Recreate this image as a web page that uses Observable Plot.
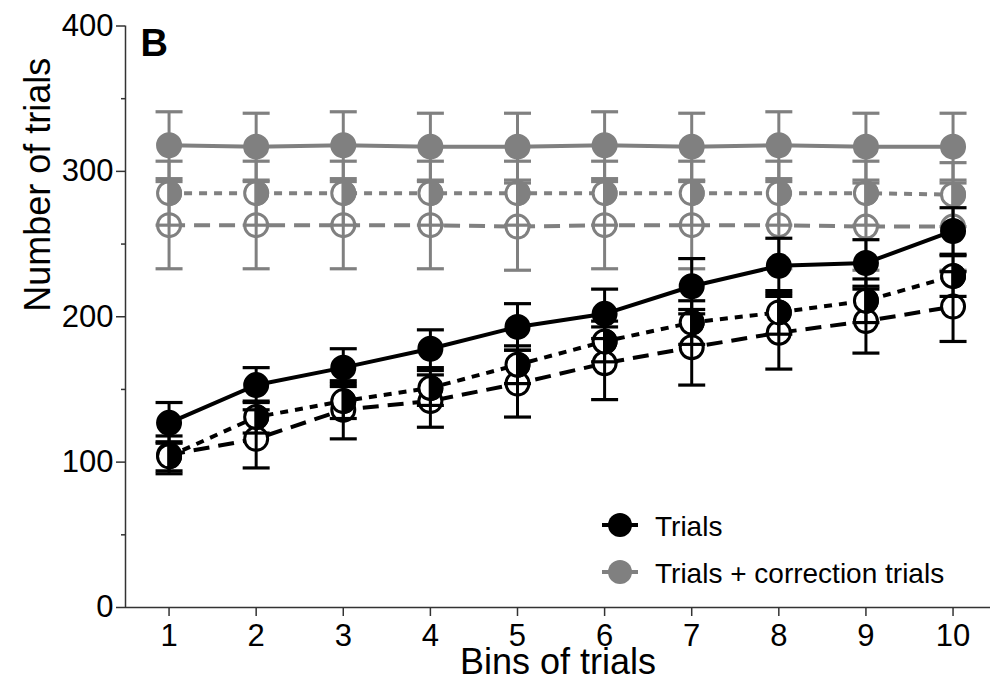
<!DOCTYPE html>
<html>
<head>
<meta charset="utf-8">
<script src="https://cdn.jsdelivr.net/npm/d3@7"></script>
<script src="https://cdn.jsdelivr.net/npm/@observablehq/plot@0.6"></script>
<style>
  html, body { margin: 0; padding: 0; background: #fff; }
  #chart { position: relative; width: 993px; height: 681px; }
</style>
</head>
<body>
<div id="chart"></div>
<script>
// ---- Data ----
const bins = [1, 2, 3, 4, 5, 6, 7, 8, 9, 10];

// Trials (black)
const trialsFilled    = [127, 153, 165, 178, 193, 202, 221, 235, 237, 259];
const trialsFilledErr = [14, 12, 13, 13, 16, 17, 19, 19, 16, 16];
const trialsHalf      = [104, 131, 142, 151, 167, 183, 196, 203, 211, 228];
const trialsHalfErr   = [10, 11, 12, 12, 13, 14, 15, 15, 15, 14];
const trialsOpen      = [105, 116, 136, 142, 154, 168, 179, 189, 197, 207];
const trialsOpenErr   = [13, 20, 20, 18, 23, 25, 26, 25, 22, 24];

// Trials + correction trials (grey)
const corrFilled    = [318, 317, 318, 317, 317, 318, 317, 318, 317, 317];
const corrFilledErr = [23, 23, 23, 23, 23, 23, 23, 23, 23, 23];
const corrHalf      = [285, 285, 285, 285, 285, 285, 285, 285, 285, 284];
const corrHalfErr   = [22, 22, 22, 22, 22, 22, 22, 22, 22, 22];
const corrOpen      = [263, 263, 263, 263, 262, 263, 263, 263, 262, 262];
const corrOpenErr   = [30, 30, 30, 30, 30, 30, 30, 30, 30, 30];

const yTicks = [0, 100, 200, 300, 400];
const yMinorTicks = [50, 150, 250, 350];
const legendLabels = ["Trials", "Trials + correction trials"];

const BLACK = "#000000";
const GREY = "#808080";

// series definitions (drawing order: grey first, black on top)
const series = [
  {id: "corrOpen",   color: GREY,  kind: "open",   dash: "16,9", values: corrOpen,   errs: corrOpenErr},
  {id: "corrHalf",   color: GREY,  kind: "half",   dash: "8,7",  values: corrHalf,   errs: corrHalfErr},
  {id: "corrFilled", color: GREY,  kind: "filled", dash: null,   values: corrFilled, errs: corrFilledErr},
  {id: "trOpen",     color: BLACK, kind: "open",   dash: "16,9", values: trialsOpen,   errs: trialsOpenErr},
  {id: "trHalf",     color: BLACK, kind: "half",   dash: "8,7",  values: trialsHalf,   errs: trialsHalfErr},
  {id: "trFilled",   color: BLACK, kind: "filled", dash: null,   values: trialsFilled, errs: trialsFilledErr}
];

const rowsOf = s => bins.map((b, i) => ({bin: b, value: s.values[i], err: s.errs[i], lo: s.values[i] - s.errs[i], hi: s.values[i] + s.errs[i]}));

// custom symbols
const halfRight = {
  draw(ctx, size) {
    const r = Math.sqrt(size / Math.PI);
    ctx.moveTo(0, -r);
    ctx.arc(0, 0, r, -Math.PI / 2, Math.PI / 2);
    ctx.closePath();
  }
};
const capSymbol = {
  draw(ctx, size) {
    const w = 13.5;
    ctx.moveTo(-w, 0);
    ctx.lineTo(w, 0);
  }
};

const R = 11.5;
const marks = [];

function groupMarks(group) {
  for (const s of group) {
    marks.push(Plot.line(rowsOf(s), {x: "bin", y: "value", stroke: s.color, strokeWidth: 4, strokeDasharray: s.dash || undefined, strokeLinecap: "butt"}));
  }
  for (const s of group) {
    const rows = rowsOf(s);
    if (s.kind === "filled") {
      marks.push(Plot.dot(rows, {x: "bin", y: "value", r: R, fill: s.color, stroke: s.color, strokeWidth: 3}));
    } else {
      marks.push(Plot.dot(rows, {x: "bin", y: "value", r: R, fill: "white", stroke: s.color, strokeWidth: 3}));
      if (s.kind === "half") {
        marks.push(Plot.dot(rows, {x: "bin", y: "value", r: R, symbol: halfRight, fill: s.color, stroke: s.color, strokeWidth: 3}));
      }
    }
  }
  for (const s of group) {
    const rows = rowsOf(s);
    marks.push(Plot.ruleX(rows, {x: "bin", y1: "lo", y2: "hi", stroke: s.color, strokeWidth: 3}));
    marks.push(Plot.dot(rows, {x: "bin", y: "lo", symbol: capSymbol, fill: "none", stroke: s.color, strokeWidth: 3.2}));
    marks.push(Plot.dot(rows, {x: "bin", y: "hi", symbol: capSymbol, fill: "none", stroke: s.color, strokeWidth: 3.2}));
  }
}

groupMarks(series.filter(s => s.color === GREY));
groupMarks(series.filter(s => s.color === BLACK));

const X0 = 0.5, X1 = 10.43;

const chart = Plot.plot({
  width: 993,
  height: 681,
  marginLeft: 125,
  marginRight: 3,
  marginTop: 25.5,
  marginBottom: 74,
  x: {domain: [X0, X1]},
  y: {domain: [0, 400]},
  style: {fontFamily: "Arial, 'Liberation Sans', sans-serif", fontSize: "31px", color: "#000", background: "#fff"},
  marks: [
    Plot.axisX({ticks: bins, tickSize: 9, tickPadding: 7, fontSize: 31, label: null, stroke: "#333", strokeWidth: 1.5}),
    Plot.axisY({ticks: yTicks, tickSize: 9, tickPadding: 3, fontSize: 31, label: null, stroke: "#333", strokeWidth: 1.5}),
    Plot.axisY({ticks: yMinorTicks, tickSize: 4, tickFormat: () => "", label: null, stroke: "#333", strokeWidth: 1.5}),
    Plot.ruleX([X0], {y1: 0, y2: 400, stroke: "#333", strokeWidth: 1.5}),
    Plot.ruleY([0], {x1: X0, x2: X1, stroke: "#333", strokeWidth: 1.5}),
    ...marks,
    Plot.text(["B"], {frameAnchor: "top-left", dx: 15, dy: 3, fontSize: 38, fontWeight: "bold", textAnchor: "start", lineAnchor: "top", fill: "#000"}),
    Plot.text(["Number of trials"], {frameAnchor: "left", rotate: -90, dx: -87, dy: -5, fontSize: 36, fill: "#000"}),
    Plot.text(["Bins of trials"], {frameAnchor: "bottom", dy: 55, fontSize: 36, lineAnchor: "middle", fill: "#000"})
  ]
});

document.getElementById("chart").appendChild(chart);

const svg = d3.select(chart);

// legend (inside the plot area, lower right)
const lg = svg.append("g")
  .attr("font-family", "Arial, 'Liberation Sans', sans-serif")
  .attr("font-size", 28)
  .attr("text-anchor", "start");
const legendItems = [
  {label: legendLabels[0], color: BLACK, cy: 525},
  {label: legendLabels[1], color: GREY, cy: 572}
];
for (const it of legendItems) {
  lg.append("line").attr("x1", 602).attr("x2", 638).attr("y1", it.cy).attr("y2", it.cy).attr("stroke", it.color).attr("stroke-width", 4);
  lg.append("circle").attr("cx", 620).attr("cy", it.cy).attr("r", 12).attr("fill", it.color);
  lg.append("text").attr("x", 655).attr("y", it.cy + 10.5).attr("text-anchor", "start").attr("fill", "#000").text(it.label);
}
</script>
</body>
</html>
